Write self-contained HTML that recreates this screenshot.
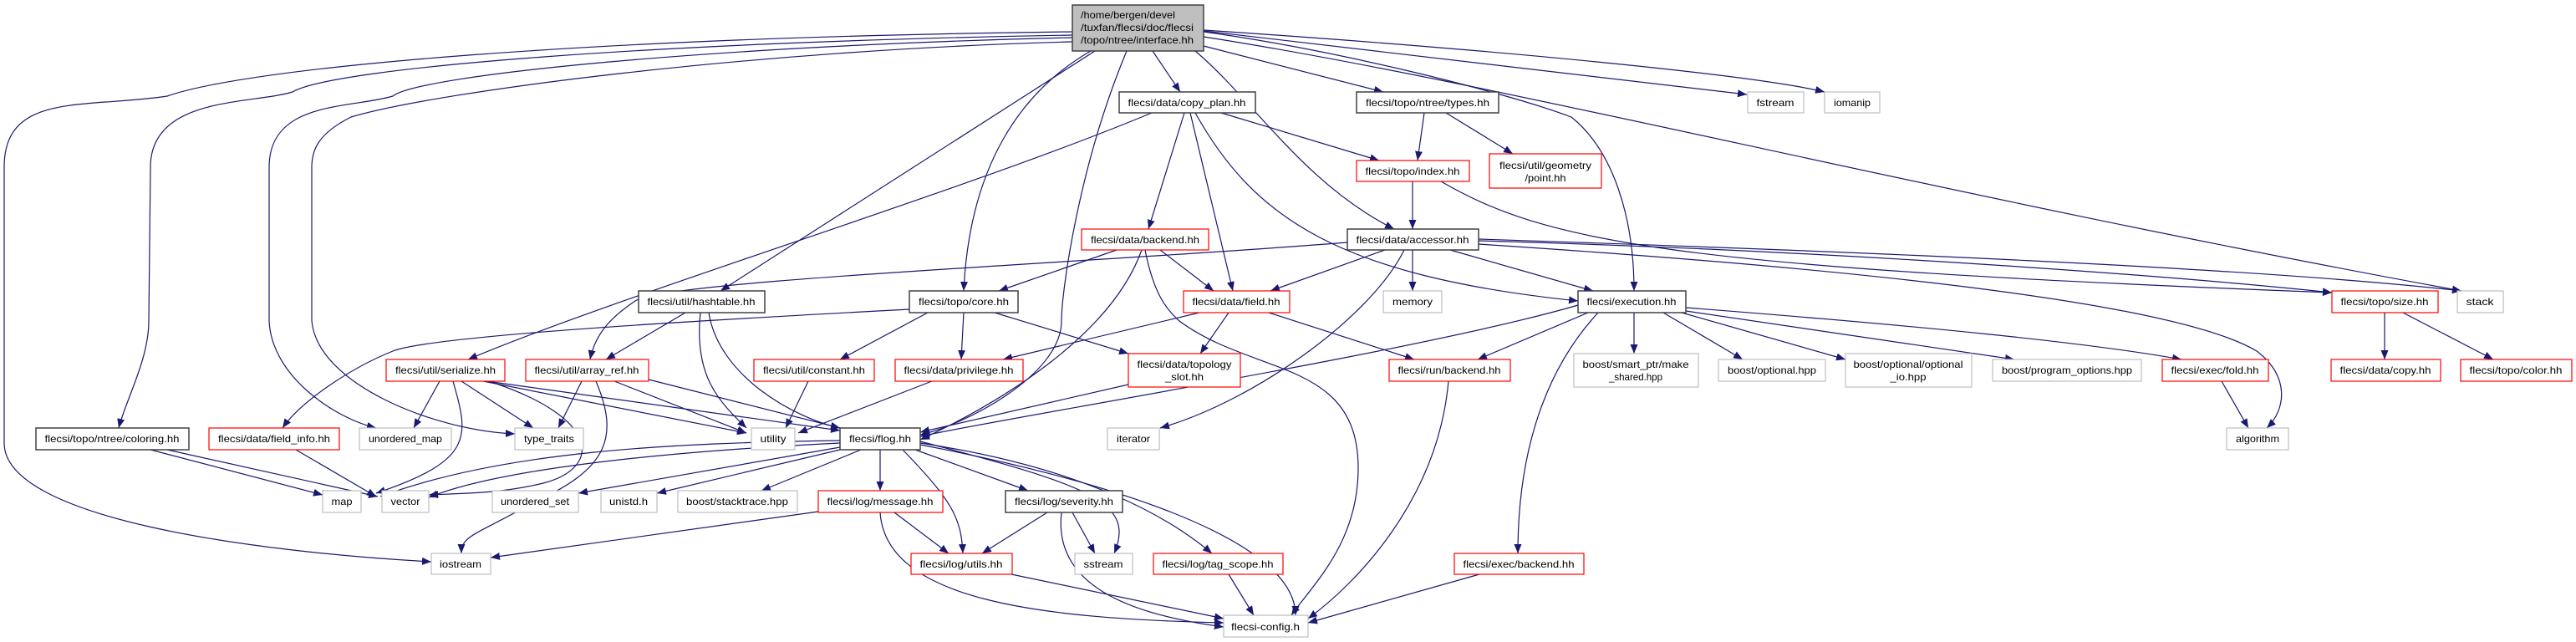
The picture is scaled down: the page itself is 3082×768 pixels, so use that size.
<!DOCTYPE html>
<html><head><meta charset="utf-8"><style>html,body{margin:0;padding:0;background:#fff}svg{display:block}</style></head>
<body>
<svg xmlns="http://www.w3.org/2000/svg" width="3082" height="768" viewBox="0 0 3082 768">
<defs>
<marker id="a" markerUnits="userSpaceOnUse" markerWidth="12" markerHeight="10" refX="11" refY="4.5" orient="auto"><path d="M0,0 L11,4.5 L0,9 z" fill="#191970"/></marker>
</defs>
<g fill="none" stroke="#191970" stroke-width="1.2" marker-end="url(#a)">
<path d="M1283,38 C700,45 300,80 200,115 C100,130 5,110 5,200 L5,530 C5,620 300,660 516,672"/>
<path d="M1283,42 C800,50 400,80 350,110 C300,125 180,115 180,200 L178,384 C178,430 150,480 142,512"/>
<path d="M1283,45 C850,55 500,90 470,115 C420,130 322,120 322,200 L322,384 C325,450 400,500 450,512"/>
<path d="M1283,50 C900,60 520,110 420,140 C380,160 373,180 373,200 L373,384 C380,460 520,515 616,519"/>
<path d="M1310,61 L862,348"/>
<path d="M1305,61 C1220,110 1160,200 1153,348"/>
<path d="M1348,61 C1290,200 1270,350 1270,384 C1270,450 1150,510 1101,520"/>
<path d="M1379,61 L1412,110"/>
<path d="M1440,55 L1655,110"/>
<path d="M1430,61 C1500,120 1560,220 1668,274"/>
<path d="M1440,38 C1600,60 1800,110 1880,140 C1930,180 1955,260 1955,348"/>
<path d="M1440,37 L2090,113"/>
<path d="M1440,36 C1800,60 2100,90 2183,110"/>
<path d="M1440,44 C1800,100 2300,230 2945,348"/>
<path d="M1378,135 C1150,230 750,350 560,430"/>
<path d="M1417,135 L1374,274"/>
<path d="M1424,135 L1475,348"/>
<path d="M1461,135 L1650,192"/>
<path d="M1430,135 C1500,260 1600,330 1888,360"/>
<path d="M1704,135 L1696,192"/>
<path d="M1730,135 L1810,184"/>
<path d="M1690,217 L1690,274"/>
<path d="M1724,217 C1850,290 2000,320 2790,350"/>
<path d="M1612,290 C1300,315 800,335 760,360 C730,380 712,400 706,430"/>
<path d="M1657,299 L1520,348"/>
<path d="M1680,299 C1640,380 1500,480 1388,512"/>
<path d="M1690,299 L1690,348"/>
<path d="M1735,299 L1906,348"/>
<path d="M1769,288 C2200,300 2600,330 2790,350"/>
<path d="M1769,286 C2200,300 2700,320 2945,348"/>
<path d="M1769,292 C2200,320 2600,360 2700,420 C2740,450 2735,490 2712,512"/>
<path d="M1336,299 L1195,348"/>
<path d="M1388,299 L1452,348"/>
<path d="M1366,299 C1330,400 1200,480 1101,526"/>
<path d="M1370,299 C1380,350 1395,370 1411,384 C1500,450 1625,430 1625,560 C1625,650 1570,700 1545,736"/>
<path d="M1435,374 L1200,430"/>
<path d="M1470,374 L1436,423"/>
<path d="M1518,374 L1692,430"/>
<path d="M1088,370 C900,380 520,400 470,420 C420,440 360,480 338,512"/>
<path d="M1153,374 L1150,430"/>
<path d="M1110,374 L1005,430"/>
<path d="M1190,374 L1350,423"/>
<path d="M820,374 L725,430"/>
<path d="M838,374 C830,450 860,480 893,512"/>
<path d="M848,374 C860,450 950,500 1005,512"/>
<path d="M526,456 L495,512"/>
<path d="M552,456 L638,512"/>
<path d="M542,456 C560,520 570,550 450,590"/>
<path d="M578,456 L893,518"/>
<path d="M582,456 L1005,515"/>
<path d="M585,456 C720,500 720,560 650,578 C600,590 560,590 513,592"/>
<path d="M696,456 L668,512"/>
<path d="M735,456 L893,518"/>
<path d="M776,454 L1005,512"/>
<path d="M713,456 C740,520 730,560 640,600 C570,640 552,640 552,662"/>
<path d="M967,456 L940,512"/>
<path d="M354,538 L450,594"/>
<path d="M1115,456 L955,518"/>
<path d="M1350,460 L1101,517"/>
<path d="M180,538 L386,592"/>
<path d="M200,538 L452,594"/>
<path d="M1733,456 C1720,600 1620,700 1565,740"/>
<path d="M1888,365 C1700,420 1200,500 1101,522"/>
<path d="M1900,374 L1768,430"/>
<path d="M1955,374 L1955,423"/>
<path d="M1912,374 C1860,430 1816,520 1816,662"/>
<path d="M1990,374 L2085,430"/>
<path d="M2012,374 L2208,430"/>
<path d="M2017,372 L2410,430"/>
<path d="M2017,368 C2300,390 2500,410 2610,430"/>
<path d="M1770,687 L1565,745"/>
<path d="M1005,530 C800,540 600,560 513,595"/>
<path d="M1005,527 C800,530 600,540 455,594"/>
<path d="M1005,535 L692,590"/>
<path d="M1005,538 L786,590"/>
<path d="M1030,538 L911,587"/>
<path d="M1053,538 L1053,587"/>
<path d="M1080,538 C1140,600 1150,620 1152,662"/>
<path d="M1095,538 L1230,587"/>
<path d="M1101,528 C1300,580 1360,600 1333,662"/>
<path d="M1101,530 C1300,560 1400,620 1450,662"/>
<path d="M1101,532 C1300,570 1550,640 1550,736"/>
<path d="M979,612 L587,667"/>
<path d="M1070,613 L1135,662"/>
<path d="M1053,613 C1060,720 1250,740 1464,745"/>
<path d="M1253,613 L1175,662"/>
<path d="M1283,613 L1310,662"/>
<path d="M1270,613 C1260,700 1350,735 1464,750"/>
<path d="M1210,687 L1464,740"/>
<path d="M1470,687 L1500,736"/>
<path d="M2853,374 L2853,430"/>
<path d="M2875,374 L2983,430"/>
<path d="M2658,456 L2690,512"/>
</g>
<g font-family="Liberation Sans, sans-serif" font-size="12" fill="#000" text-anchor="middle" lengthAdjust="spacingAndGlyphs">
<rect x="1283" y="6" width="157" height="55" fill="#bfbfbf" stroke="#404040" stroke-width="1.5"/>
<text x="1293" y="22" text-anchor="start" textLength="113" lengthAdjust="spacingAndGlyphs">/home/bergen/devel</text>
<text x="1293" y="37" text-anchor="start" textLength="135" lengthAdjust="spacingAndGlyphs">/tuxfan/flecsi/doc/flecsi</text>
<text x="1293" y="52" text-anchor="start" textLength="135" lengthAdjust="spacingAndGlyphs">/topo/ntree/interface.hh</text>
</g>
<g font-family="Liberation Sans, sans-serif" font-size="12" fill="#000" text-anchor="middle">
<!-- black -->
<g fill="#fff" stroke="#404040" stroke-width="1.5">
<rect x="1339" y="110" width="163" height="25"/><rect x="1623" y="110" width="170" height="25"/>
<rect x="1612" y="274" width="157" height="25"/><rect x="1088" y="348" width="130" height="26"/>
<rect x="764" y="348" width="151" height="26"/><rect x="1888" y="348" width="129" height="26"/>
<rect x="43" y="512" width="183" height="26"/><rect x="1005" y="512" width="96" height="26"/>
<rect x="1203" y="587" width="140" height="26"/>
</g>
<g fill="#fff" stroke="#ff0000" stroke-width="1.2">
<rect x="1623" y="192" width="135" height="25"/><rect x="1782" y="184" width="134" height="41"/>
<rect x="1294" y="274" width="152" height="25"/><rect x="1416" y="348" width="127" height="26"/>
<rect x="2790" y="348" width="127" height="26"/><rect x="462" y="430" width="142" height="26"/>
<rect x="629" y="430" width="147" height="26"/><rect x="902" y="430" width="144" height="26"/>
<rect x="1071" y="430" width="153" height="26"/><rect x="1350" y="423" width="134" height="40"/>
<rect x="1662" y="430" width="145" height="26"/><rect x="2587" y="430" width="127" height="26"/>
<rect x="2789" y="430" width="131" height="26"/><rect x="2944" y="430" width="133" height="26"/>
<rect x="250" y="512" width="156" height="26"/><rect x="979" y="587" width="149" height="26"/>
<rect x="1090" y="662" width="121" height="25"/><rect x="1380" y="662" width="155" height="25"/>
<rect x="1740" y="662" width="155" height="25"/>
</g>
<g fill="#fff" stroke="#bfbfbf" stroke-width="1.2">
<rect x="2091" y="110" width="67" height="25"/><rect x="2183" y="110" width="66" height="25"/>
<rect x="1655" y="348" width="70" height="26"/><rect x="2940" y="348" width="55" height="26"/>
<rect x="1883" y="423" width="149" height="40"/><rect x="2056" y="430" width="128" height="26"/>
<rect x="2208" y="423" width="151" height="40"/><rect x="2384" y="430" width="178" height="26"/>
<rect x="430" y="512" width="110" height="26"/><rect x="616" y="512" width="82" height="26"/>
<rect x="899" y="512" width="52" height="26"/><rect x="1325" y="512" width="62" height="26"/>
<rect x="2664" y="512" width="74" height="26"/><rect x="386" y="587" width="46" height="26"/>
<rect x="457" y="587" width="56" height="26"/><rect x="589" y="587" width="103" height="26"/>
<rect x="719" y="587" width="67" height="26"/><rect x="811" y="587" width="143" height="26"/>
<rect x="516" y="662" width="71" height="25"/><rect x="1286" y="662" width="69" height="25"/>
<rect x="1464" y="736" width="101" height="26"/>
</g>
<g lengthAdjust="spacingAndGlyphs">
<text x="1420" y="127" textLength="141" lengthAdjust="spacingAndGlyphs">flecsi/data/copy_plan.hh</text>
<text x="1708" y="127" textLength="148" lengthAdjust="spacingAndGlyphs">flecsi/topo/ntree/types.hh</text>
<text x="1690" y="291" textLength="135" lengthAdjust="spacingAndGlyphs">flecsi/data/accessor.hh</text>
<text x="1153" y="365" textLength="108" lengthAdjust="spacingAndGlyphs">flecsi/topo/core.hh</text>
<text x="839" y="365" textLength="129" lengthAdjust="spacingAndGlyphs">flecsi/util/hashtable.hh</text>
<text x="1952" y="365" textLength="107" lengthAdjust="spacingAndGlyphs">flecsi/execution.hh</text>
<text x="134" y="529" textLength="161" lengthAdjust="spacingAndGlyphs">flecsi/topo/ntree/coloring.hh</text>
<text x="1053" y="529" textLength="74" lengthAdjust="spacingAndGlyphs">flecsi/flog.hh</text>
<text x="1273" y="604" textLength="118" lengthAdjust="spacingAndGlyphs">flecsi/log/severity.hh</text>
<text x="1690" y="209" textLength="113" lengthAdjust="spacingAndGlyphs">flecsi/topo/index.hh</text>
<text x="1849" y="202" textLength="110" lengthAdjust="spacingAndGlyphs">flecsi/util/geometry</text>
<text x="1849" y="217" textLength="49" lengthAdjust="spacingAndGlyphs">/point.hh</text>
<text x="1370" y="291" textLength="130" lengthAdjust="spacingAndGlyphs">flecsi/data/backend.hh</text>
<text x="1479" y="365" textLength="105" lengthAdjust="spacingAndGlyphs">flecsi/data/field.hh</text>
<text x="2853" y="365" textLength="105" lengthAdjust="spacingAndGlyphs">flecsi/topo/size.hh</text>
<text x="533" y="447" textLength="120" lengthAdjust="spacingAndGlyphs">flecsi/util/serialize.hh</text>
<text x="702" y="447" textLength="125" lengthAdjust="spacingAndGlyphs">flecsi/util/array_ref.hh</text>
<text x="974" y="447" textLength="122" lengthAdjust="spacingAndGlyphs">flecsi/util/constant.hh</text>
<text x="1147" y="447" textLength="131" lengthAdjust="spacingAndGlyphs">flecsi/data/privilege.hh</text>
<text x="1417" y="440" textLength="113" lengthAdjust="spacingAndGlyphs">flecsi/data/topology</text>
<text x="1417" y="455" textLength="46" lengthAdjust="spacingAndGlyphs">_slot.hh</text>
<text x="1734" y="447" textLength="123" lengthAdjust="spacingAndGlyphs">flecsi/run/backend.hh</text>
<text x="2650" y="447" textLength="105" lengthAdjust="spacingAndGlyphs">flecsi/exec/fold.hh</text>
<text x="2854" y="447" textLength="109" lengthAdjust="spacingAndGlyphs">flecsi/data/copy.hh</text>
<text x="3010" y="447" textLength="111" lengthAdjust="spacingAndGlyphs">flecsi/topo/color.hh</text>
<text x="328" y="529" textLength="134" lengthAdjust="spacingAndGlyphs">flecsi/data/field_info.hh</text>
<text x="1053" y="604" textLength="127" lengthAdjust="spacingAndGlyphs">flecsi/log/message.hh</text>
<text x="1150" y="679" textLength="99" lengthAdjust="spacingAndGlyphs">flecsi/log/utils.hh</text>
<text x="1457" y="679" textLength="133" lengthAdjust="spacingAndGlyphs">flecsi/log/tag_scope.hh</text>
<text x="1817" y="679" textLength="133" lengthAdjust="spacingAndGlyphs">flecsi/exec/backend.hh</text>
<text x="2124" y="127" textLength="45" lengthAdjust="spacingAndGlyphs">fstream</text>
<text x="2216" y="127" textLength="44" lengthAdjust="spacingAndGlyphs">iomanip</text>
<text x="1690" y="365" textLength="48" lengthAdjust="spacingAndGlyphs">memory</text>
<text x="2967" y="365" textLength="33" lengthAdjust="spacingAndGlyphs">stack</text>
<text x="1957" y="440" textLength="127" lengthAdjust="spacingAndGlyphs">boost/smart_ptr/make</text>
<text x="1957" y="455" textLength="64" lengthAdjust="spacingAndGlyphs">_shared.hpp</text>
<text x="2120" y="447" textLength="106" lengthAdjust="spacingAndGlyphs">boost/optional.hpp</text>
<text x="2283" y="440" textLength="131" lengthAdjust="spacingAndGlyphs">boost/optional/optional</text>
<text x="2283" y="455" textLength="43" lengthAdjust="spacingAndGlyphs">_io.hpp</text>
<text x="2473" y="447" textLength="156" lengthAdjust="spacingAndGlyphs">boost/program_options.hpp</text>
<text x="485" y="529" textLength="88" lengthAdjust="spacingAndGlyphs">unordered_map</text>
<text x="657" y="529" textLength="60" lengthAdjust="spacingAndGlyphs">type_traits</text>
<text x="925" y="529" textLength="31" lengthAdjust="spacingAndGlyphs">utility</text>
<text x="1356" y="529" textLength="40" lengthAdjust="spacingAndGlyphs">iterator</text>
<text x="2701" y="529" textLength="52" lengthAdjust="spacingAndGlyphs">algorithm</text>
<text x="409" y="604" textLength="25" lengthAdjust="spacingAndGlyphs">map</text>
<text x="485" y="604" textLength="35" lengthAdjust="spacingAndGlyphs">vector</text>
<text x="640" y="604" textLength="82" lengthAdjust="spacingAndGlyphs">unordered_set</text>
<text x="752" y="604" textLength="46" lengthAdjust="spacingAndGlyphs">unistd.h</text>
<text x="882" y="604" textLength="122" lengthAdjust="spacingAndGlyphs">boost/stacktrace.hpp</text>
<text x="551" y="679" textLength="50" lengthAdjust="spacingAndGlyphs">iostream</text>
<text x="1320" y="679" textLength="47" lengthAdjust="spacingAndGlyphs">sstream</text>
<text x="1514" y="754" textLength="82" lengthAdjust="spacingAndGlyphs">flecsi-config.h</text>
</g>
</g>
</svg>
</body></html>
